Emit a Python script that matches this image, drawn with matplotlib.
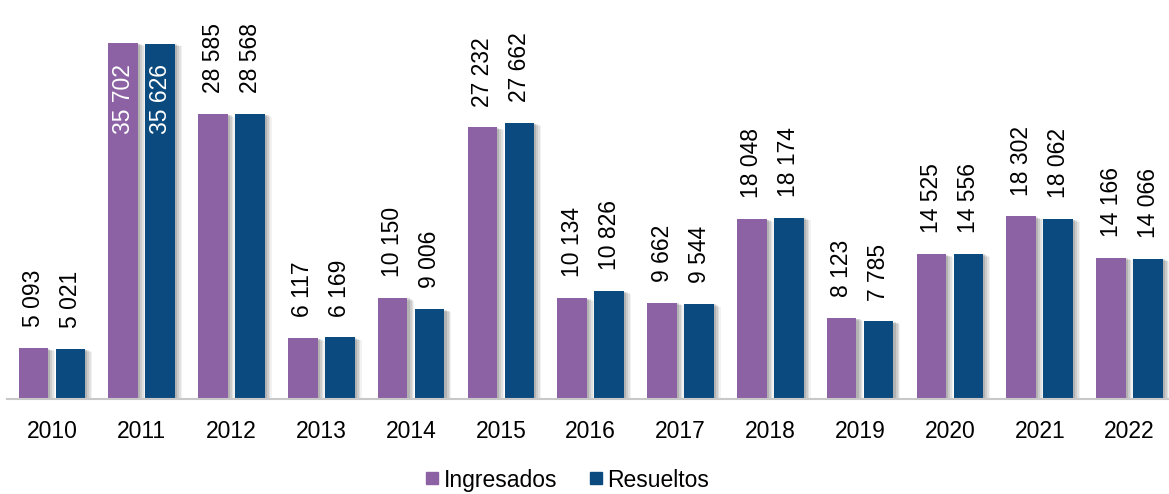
import numpy as np
import matplotlib.pyplot as plt
import matplotlib.patheffects as pe
from matplotlib.lines import Line2D

plt.rcParams['font.family'] = ['Liberation Sans', 'DejaVu Sans']

years = ["2010", "2011", "2012", "2013", "2014", "2015", "2016",
         "2017", "2018", "2019", "2020", "2021", "2022"]
ingresados = [5093, 35702, 28585, 6117, 10150, 27232, 10134,
              9662, 18048, 8123, 14525, 18302, 14166]
resueltos = [5021, 35626, 28568, 6169, 9006, 27662, 10826,
             9544, 18174, 7785, 14556, 18062, 14066]

purple = "#8c62a5"
blue = "#0b4a7e"

fig = plt.figure(figsize=(11.69, 4.94), dpi=100)
ax = fig.add_axes([7 / 1169, 95 / 494, 1167.5 / 1169, 399 / 494])

x = np.arange(len(years))
w = 0.33
off = 0.206

# soft shadow, right/bottom of each bar
shadow = [pe.SimplePatchShadow(offset=(5, -2), shadow_rgbFace="#000000", alpha=0.05),
          pe.SimplePatchShadow(offset=(4, -1.5), shadow_rgbFace="#000000", alpha=0.07),
          pe.SimplePatchShadow(offset=(3, -1), shadow_rgbFace="#000000", alpha=0.09),
          pe.SimplePatchShadow(offset=(1.5, -0.5), shadow_rgbFace="#000000", alpha=0.12),
          pe.Normal()]

b1 = ax.bar(x - off, ingresados, w, color=purple, zorder=2)
b2 = ax.bar(x + off, resueltos, w, color=blue, zorder=2)
for b in list(b1) + list(b2):
    b.set_path_effects(shadow)


def fmt(v):
    return f"{v:,}".replace(",", " ")


for xs, vals in [(x - off, ingresados), (x + off, resueltos)]:
    for xi, v in zip(xs, vals):
        if v > 30000:
            ax.annotate(fmt(v), (xi, v), xytext=(0, -15), textcoords="offset points",
                        rotation=90, ha="center", va="top", fontsize=16.5, color="white")
        else:
            ax.annotate(fmt(v), (xi, v), xytext=(0, 15), textcoords="offset points",
                        rotation=90, ha="center", va="bottom", fontsize=16.5, color="black")

ax.set_xlim(-0.5, len(years) - 0.5)
ax.set_ylim(0, 40000)
ax.set_xticks(x)
ax.set_xticklabels(years, fontsize=16.5)
ax.tick_params(axis="x", length=0, pad=15)
ax.set_yticks([])
for s in ["top", "right", "left"]:
    ax.spines[s].set_visible(False)
ax.spines["bottom"].set_color("#c8c8c8")
ax.spines["bottom"].set_linewidth(1.5)
ax.spines["bottom"].set_zorder(3)

handles = [Line2D([], [], marker="s", linestyle="", markersize=9, color=purple),
           Line2D([], [], marker="s", linestyle="", markersize=9, color=blue)]
fig.legend(handles, ["Ingresados", "Resueltos"], loc="center",
           bbox_to_anchor=(565 / 1169, 1 - 480 / 494), ncol=2, frameon=False,
           fontsize=16.5, handletextpad=0.0, columnspacing=1.2, handlelength=1.0)

fig.savefig("out.png", dpi=100)
